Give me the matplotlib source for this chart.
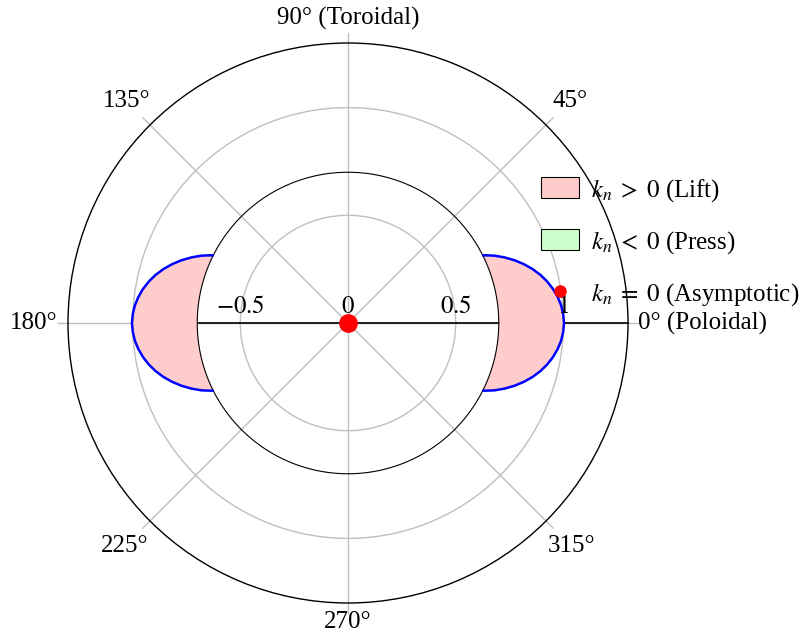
import numpy as np
import matplotlib
matplotlib.use("Agg")
import matplotlib.pyplot as plt
from matplotlib.patches import Patch
from matplotlib.lines import Line2D
import matplotlib.transforms as mtransforms

plt.rcParams['font.family'] = ['Liberation Serif', 'DejaVu Serif']
plt.rcParams['mathtext.fontset'] = 'stix'

# ---- data ----
# lobe boundary: angle (deg, relative to lobe axis) and radius
lobe_angle_deg = [-26.57, -24.72, -22.74, -20.66, -18.50, -16.28, -14.02, -11.73, -9.41, -7.07, -4.72, -2.36,
                  0.0,
                  2.36, 4.72, 7.07, 9.41, 11.73, 14.02, 16.28, 18.50, 20.66, 22.74, 24.72, 26.57]
lobe_radius = [0.703, 0.748, 0.788, 0.826, 0.861, 0.893, 0.921, 0.945, 0.965, 0.981, 0.993, 1.000,
               1.003,
               1.000, 0.993, 0.981, 0.965, 0.945, 0.921, 0.893, 0.861, 0.826, 0.788, 0.748, 0.703]
lobe_centers_deg = [0, 180]
inner_radius = 0.7
r_max = 1.3
r_grid = [0.5, 1.0]
r_tick_values = [-0.5, 0, 0.5, 1]
r_tick_labels = ["$-0.5$", "$0$", "$0.5$", "$1$"]
theta_ticks_deg = [0, 45, 90, 135, 180, 225, 270, 315]
theta_tick_labels = ["0° (Poloidal)", "45°", "90° (Toroidal)", "135°", "180°", "225°", "270°", "315°"]
asym_r = [0.0]
asym_theta = [0.0]
legend_labels = [r"$k_n\;>\;0$ (Lift)", r"$k_n\;<\;0$ (Press)", r"$k_n\;=\;0$ (Asymptotic)"]

FS = 18
W, H = 806, 635
fig = plt.figure(figsize=(W / 100, H / 100), dpi=100)
cx, cy, R = 348, 323, 280
ax = fig.add_axes([(cx - R) / W, (H - cy - R) / H, 2 * R / W, 2 * R / H], projection='polar')
ax.set_ylim(0, r_max)
ax.set_xticks([])
ax.set_yticks([])
ax.grid(False)
ax.spines['polar'].set_linewidth(1.0)
ax.spines['polar'].set_color('black')

gray = '#bfbfbf'
th_full = np.linspace(0, 2 * np.pi, 721)
# grid circles
for rg in r_grid:
    ax.plot(th_full, np.full_like(th_full, rg), color=gray, lw=1.0, zorder=1)
# spokes (extending slightly beyond the outer circle)
for t in theta_ticks_deg:
    ax.plot([np.deg2rad(t)] * 2, [0, r_max * 1.036], color=gray, lw=1.0, zorder=1, clip_on=False)

# radial axis line
ax.plot([0, 0], [0, r_max], color='black', lw=1.2, zorder=2)
ax.plot([np.pi, np.pi], [0, inner_radius], color='black', lw=1.2, zorder=2)

# lobes
la = np.deg2rad(np.array(lobe_angle_deg))
lr = np.array(lobe_radius)
for c in lobe_centers_deg:
    th = la + np.deg2rad(c)
    ax.fill_between(th, inner_radius, lr, facecolor='#ffcccc', edgecolor='none', zorder=3)
    ax.plot(th, lr, color='blue', lw=1.8, zorder=5, solid_joinstyle='round')

# inner circle
ax.plot(th_full, np.full_like(th_full, inner_radius), color='black', lw=0.8, zorder=4)

# asymptotic point
ax.plot(asym_theta, asym_r, 'o', color='red', markersize=12.5, zorder=6, clip_on=False)

# radial tick labels
offset = mtransforms.ScaledTranslation(0, 5 / 100, fig.dpi_scale_trans)
for v, lab in zip(r_tick_values, r_tick_labels):
    th = 0.0 if v >= 0 else np.pi
    ax.text(th, abs(v), lab, fontsize=FS, ha='center', va='bottom', zorder=7,
            transform=ax.transData + offset, clip_on=False)

# angle labels
lab_pos = {0: (1.345, 'left', 'center'), 45: (1.455, 'center', 'center'), 90: (1.415, 'center', 'center'),
           135: (1.455, 'center', 'center'), 180: (1.35, 'right', 'center'), 225: (1.465, 'center', 'center'),
           270: (1.39, 'center', 'center'), 315: (1.465, 'center', 'center')}
for t, lab in zip(theta_ticks_deg, theta_tick_labels):
    rr, ha, va = lab_pos[t]
    ax.text(np.deg2rad(t), rr, lab, fontsize=FS, ha=ha, va=va, clip_on=False)

handles = [Patch(facecolor='#ffcccc', edgecolor='black', lw=0.8),
           Patch(facecolor='#ccffcc', edgecolor='black', lw=0.8),
           Line2D([], [], marker='o', color='red', ls='none', markersize=8)]
fig.legend(handles, legend_labels, loc='upper left', bbox_to_anchor=(541 / W, 1 - 177 / H),
           frameon=False, fontsize=FS, borderpad=0, borderaxespad=0, handlelength=1.52,
           handleheight=0.92, handletextpad=0.48, labelspacing=1.0)

fig.savefig('out.png', dpi=100)
